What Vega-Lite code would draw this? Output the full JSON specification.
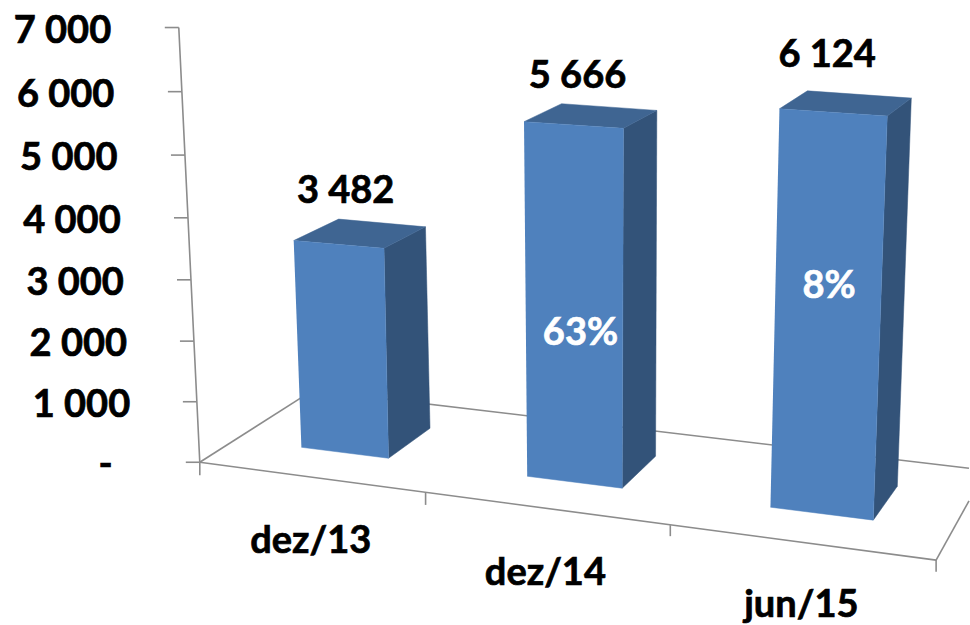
{
"$schema":"https://vega.github.io/schema/vega-lite/v6.json",
"width":970,"height":625,"padding":0,
"autosize":{"type":"fit","contains":"padding"},
"background":"white",
"view":{"stroke":null},
"config":{"text":{"font":"Lato","fontWeight":"bold","fontSize":38,"color":"#000000","stroke":"#000000","strokeWidth":0.7}},
"datasets":{
"bars":[
{"period":"dez/13","value":3482,"pct":null},
{"period":"dez/14","value":5666,"pct":"63%"},
{"period":"jun/15","value":6124,"pct":"8%"}],
"ticks":[{"tick":0},{"tick":1000},{"tick":2000},{"tick":3000},{"tick":4000},{"tick":5000},{"tick":6000},{"tick":7000}],
"frame":[
{"edge":"front","x":0,"y":0,"x2":3.0,"y2":-1581},
{"edge":"left","x":0,"y":0,"x2":0.46,"y2":1161},
{"edge":"back","x":0.46,"y":1161,"x2":3.134,"y2":-97},
{"edge":"right","x":3.0,"y":-1581,"x2":3.134,"y2":-624},
{"edge":"tick0","x":0,"y":0,"x2":0,"y2":-210},
{"edge":"tick1","x":0.92,"y":-484,"x2":0.92,"y2":-689},
{"edge":"tick2","x":1.917,"y":-1016,"x2":1.917,"y2":-1194},
{"edge":"tick3","x":3.0,"y":-1581,"x2":3.0,"y2":-1769}]
},
"encoding":{
"x":{"field":"x","type":"quantitative","axis":null,"scale":{"domain":[-0.814,3.134],"nice":false,"zero":false}},
"y":{"field":"y","type":"quantitative","axis":null,"scale":{"domain":[-2613,7468],"nice":false,"zero":false}}
},
"layer":[
{"data":{"name":"frame"},
 "mark":{"type":"rule","stroke":"#8c8c8c","strokeWidth":1.6},
 "encoding":{"x2":{"field":"x2"},"y2":{"field":"y2"}}},
{"data":{"name":"ticks"},
 "transform":[
  {"calculate":"datum.tick*(0.962+0.0000057*datum.tick)+(datum.tick>0?10:0)","as":"y"},
  {"calculate":"-0.0855*datum.y/7016","as":"x"},
  {"calculate":"datum.x-0.057","as":"x2"},
  {"calculate":"datum.tick==0?'-':replace(format(datum.tick,','),',',' ')","as":"label"},
  {"calculate":"datum.tick==0?-0.355:-0.361+(7000-datum.tick)*0.0000129","as":"lx"}
 ],
 "layer":[
  {"mark":{"type":"line","stroke":"#8c8c8c","strokeWidth":1.6},"encoding":{"order":{"field":"tick","type":"quantitative"}}},
  {"mark":{"type":"rule","stroke":"#8c8c8c","strokeWidth":1.6},"encoding":{"x2":{"field":"x2"}}},
  {"mark":{"type":"text","align":"right","baseline":"middle","dy":4},
   "encoding":{"x":{"field":"lx","type":"quantitative"},"text":{"field":"label"}}}
 ]},
{"data":{"name":"bars"},
 "transform":[
  {"calculate":"indexof(['dez/13','dez/14','jun/15'],datum.period)","as":"p"},
  {"calculate":"[{f:'front',k:0,u:0,d:0,t:1},{f:'front',k:1,u:1,d:0,t:1},{f:'front',k:2,u:1,d:0,t:0},{f:'front',k:3,u:0,d:0,t:0},{f:'side',k:0,u:1,d:0,t:1},{f:'side',k:1,u:1,d:1,t:1},{f:'side',k:2,u:1,d:1,t:0},{f:'side',k:3,u:1,d:0,t:0},{f:'top',k:0,u:0,d:0,t:1},{f:'top',k:1,u:0,d:1,t:1},{f:'top',k:2,u:1,d:1,t:1},{f:'top',k:3,u:1,d:0,t:1}]","as":"v"},
  {"flatten":["v"]},
  {"calculate":"datum.v.f","as":"face"},
  {"calculate":"datum.v.k","as":"k"},
  {"calculate":"[[0.414,1.334,2.325],[0.769,1.721,2.744]][datum.v.u][datum.p]+datum.value*datum.v.t*[[-0.000009,-0.0000023,0.000006],[-0.0000053,0.0000009,0.0000093]][datum.v.u][datum.p]+datum.v.d*[[0.183,0.153,0.114],[0.169,0.136,0.098]][datum.v.u][datum.p]","as":"x"},
  {"calculate":"[[242,-226,-726],[65,-419,-935]][datum.v.u][datum.p]+datum.value*datum.v.t*([0.959,1.011,1.051][datum.p]+datum.v.u*0.015)+datum.v.d*(datum.v.t?[347,290,290][datum.p]:[484,516,548][datum.p])","as":"y"}
 ],
 "encoding":{"detail":{"field":"period"},"order":{"field":"k","type":"quantitative"}},
 "layer":[
  {"transform":[{"filter":"datum.face=='side'"}],"mark":{"type":"line","fill":"#335379","stroke":"#335379","strokeWidth":0.5}},
  {"transform":[{"filter":"datum.face=='top'"}],"mark":{"type":"line","fill":"#3f6592","stroke":"#3f6592","strokeWidth":0.5}},
  {"transform":[{"filter":"datum.face=='front'"}],"mark":{"type":"line","fill":"#4f81bd","stroke":"#4f81bd","strokeWidth":0.5}}
 ]},
{"data":{"name":"bars"},
 "transform":[
  {"calculate":"indexof(['dez/13','dez/14','jun/15'],datum.period)","as":"p"},
  {"calculate":"[0.594,1.539,2.556][datum.p]","as":"x"},
  {"calculate":"[153.5,-322.5,-830][datum.p]+datum.value*[0.966,1.018,1.058][datum.p]+[886,813,948][datum.p]","as":"y"},
  {"calculate":"replace(format(datum.value,','),',',' ')","as":"label"}
 ],
 "mark":{"type":"text","align":"center","baseline":"middle","dy":2},
 "encoding":{"text":{"field":"label"}}},
{"data":{"name":"bars"},
 "transform":[
  {"filter":"datum.pct!=null"},
  {"calculate":"indexof(['dez/13','dez/14','jun/15'],datum.period)","as":"p"},
  {"calculate":"[0,1.551,2.564][datum.p]","as":"x"},
  {"calculate":"[153.5,-322.5,-830][datum.p]+datum.value*0.5*[0.966,1.018,1.058][datum.p]+[0,-464,461][datum.p]","as":"y"}
 ],
 "mark":{"type":"text","align":"center","baseline":"middle","dy":2,"color":"#ffffff","stroke":"#ffffff"},
 "encoding":{"text":{"field":"pct"}}},
{"data":{"name":"bars"},
 "transform":[
  {"calculate":"indexof(['dez/13','dez/14','jun/15'],datum.period)","as":"p"},
  {"calculate":"[0.452,1.408,2.451][datum.p]","as":"x"},
  {"calculate":"[-1258,-1774,-2290][datum.p]","as":"y"}
 ],
 "mark":{"type":"text","align":"center","baseline":"middle","dy":2},
 "encoding":{"text":{"field":"period"}}}
]
}
